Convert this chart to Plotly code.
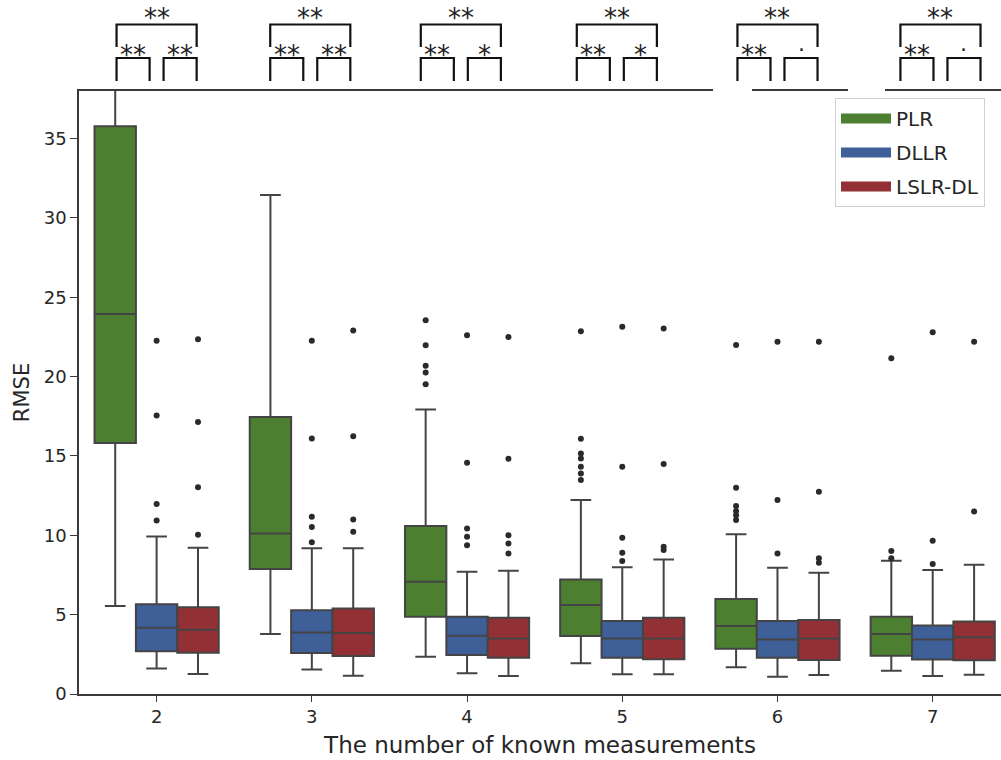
import plotly.graph_objects as go

# ---------------- data ----------------
categories = ['2', '3', '4', '5', '6', '7']
methods = ['PLR', 'DLLR', 'LSLR-DL']

plr_lower = [5.54, 3.78, 2.35, 1.93, 1.68, 1.47]
plr_q1 = [15.81, 7.87, 4.87, 3.65, 2.85, 2.41]
plr_median = [23.95, 10.12, 7.07, 5.61, 4.28, 3.78]
plr_q3 = [35.78, 17.45, 10.58, 7.22, 5.98, 4.87]
plr_upper = [40.0, 31.45, 17.93, 12.22, 10.06, 8.40]
plr_outliers = [[], [], [23.56, 21.98, 20.68, 20.26, 19.52],
                [22.86, 16.08, 15.16, 14.84, 14.32, 13.90, 13.48],
                [22.0, 12.99, 11.84, 11.53, 11.27, 10.96],
                [21.16, 9.01, 8.55]]

dllr_lower = [1.60, 1.55, 1.30, 1.24, 1.09, 1.13]
dllr_q1 = [2.70, 2.58, 2.46, 2.29, 2.29, 2.18]
dllr_median = [4.17, 3.88, 3.67, 3.50, 3.43, 3.43]
dllr_q3 = [5.65, 5.28, 4.87, 4.60, 4.60, 4.32]
dllr_upper = [9.93, 9.18, 7.70, 7.98, 7.96, 7.81]
dllr_outliers = [[22.26, 17.55, 11.97, 10.93],
                 [22.26, 16.10, 11.17, 10.52, 9.56],
                 [22.61, 14.57, 10.43, 9.91, 9.38],
                 [23.14, 14.32, 9.84, 8.90, 8.38],
                 [22.20, 12.22, 8.86],
                 [22.80, 9.66, 8.19]]

lslr_lower = [1.26, 1.15, 1.13, 1.24, 1.20, 1.21]
lslr_q1 = [2.60, 2.39, 2.29, 2.19, 2.14, 2.12]
lslr_median = [4.05, 3.85, 3.50, 3.50, 3.50, 3.57]
lslr_q3 = [5.46, 5.39, 4.81, 4.81, 4.66, 4.57]
lslr_upper = [9.22, 9.18, 7.77, 8.48, 7.64, 8.15]
lslr_outliers = [[22.36, 17.14, 13.03, 10.04],
                 [22.90, 16.25, 11.00, 10.23],
                 [22.50, 14.82, 10.01, 9.48, 8.86],
                 [23.03, 14.49, 9.28, 9.07],
                 [22.20, 12.74, 8.55, 8.27],
                 [22.20, 11.50]]

# significance labels (PLR vs LSLR-DL, PLR vs DLLR, DLLR vs LSLR-DL)
sig_outer = ['**', '**', '**', '**', '**', '**']
sig_left = ['**', '**', '**', '**', '**', '**']
sig_right = ['**', '**', '*', '*', '·', '·']

# ---------------- styling ----------------
colors = ['#4c8030', '#3e5f98', '#923035']
edge = '#444444'
text_col = '#262626'
font_fam = 'DejaVu Sans'
bracket_shift = [0.0, -0.01, -0.04, -0.035, 0.0, 0.05]

stats = [
    (plr_lower, plr_q1, plr_median, plr_q3, plr_upper, plr_outliers),
    (dllr_lower, dllr_q1, dllr_median, dllr_q3, dllr_upper, dllr_outliers),
    (lslr_lower, lslr_q1, lslr_median, lslr_q3, lslr_upper, lslr_outliers),
]

n_hue = len(methods)
w = 0.8 / n_hue
base = list(range(len(categories)))

fig = go.Figure()
for h, (name, col, st) in enumerate(zip(methods, colors, stats)):
    lo, q1, med, q3, hi, outl = st
    off = (h - (n_hue - 1) / 2) * w
    xs = [b + off for b in base]
    fig.add_trace(go.Box(
        x=xs, lowerfence=lo, q1=q1, median=med, q3=q3, upperfence=hi,
        width=w, name=name, legendgroup=name,
        fillcolor=col, line=dict(color=edge, width=2),
        whiskerwidth=0.5, boxpoints=False, showlegend=False,
    ))
    ox, oy = [], []
    for b, vals in zip(base, outl):
        for v in vals:
            ox.append(b + off)
            oy.append(v)
    fig.add_trace(go.Scatter(
        x=ox, y=oy, mode='markers', showlegend=False, legendgroup=name,
        marker=dict(color='#2a2a2a', size=6, symbol='circle'),
        hoverinfo='y',
    ))
    # legend patch (wide filled rectangle, like matplotlib's legend patch)
    fig.add_trace(go.Scatter(
        x=[None], y=[None], mode='lines', name=name, legendgroup=name,
        line=dict(color=col, width=16), showlegend=True,
    ))

# ---------------- significance brackets ----------------
L, T, W_PX, H_PX = 79, 91, 922, 603
def py(p):  # pixel row -> paper y
    return (760 - 66 - p) / H_PX

y_out_top, y_out_bot = py(24.5), py(47)
y_in_top, y_in_bot = py(58), py(81)
half = 0.258
gap = 0.045
shapes = []
annotations = []
for i, c in enumerate(base):
    cc = c + bracket_shift[i]
    for (x0, x1, yt, yb, lab, ly) in [
        (cc - half, cc + half, y_out_top, y_out_bot, sig_outer[i], py(18)),
        (cc - half, cc - gap, y_in_top, y_in_bot, sig_left[i], py(55)),
        (cc + gap, cc + half, y_in_top, y_in_bot, sig_right[i], py(55)),
    ]:
        shapes.append(dict(
            type='path', xref='x', yref='paper',
            path=f'M {x0},{yb} L {x0},{yt} L {x1},{yt} L {x1},{yb}',
            line=dict(color='#111111', width=2.2), layer='above'))
        is_dot = lab == '·'
        annotations.append(dict(
            x=(x0 + x1) / 2, y=ly if not is_dot else py(50), xref='x', yref='paper',
            text=lab, showarrow=False, xanchor='center', yanchor='middle',
            font=dict(family=font_fam, size=26 if not is_dot else 22, color='#222222')))

# white patches interrupting the top spine (as in the reference)
for (a, b) in [(713, 752), (848, 885)]:
    shapes.append(dict(type='rect', xref='paper', yref='paper',
                       x0=(a - L) / W_PX, x1=(b - L) / W_PX,
                       y0=py(97), y1=py(86), fillcolor='white',
                       line=dict(width=0), layer='above'))

fig.update_layout(
    width=1001, height=760,
    margin=dict(l=L, r=0, t=T, b=66),
    paper_bgcolor='white', plot_bgcolor='white',
    boxmode='overlay',
    font=dict(family=font_fam, color=text_col),
    shapes=shapes, annotations=annotations,
    legend=dict(x=(835 - L) / W_PX, y=py(98), xanchor='left', yanchor='top',
                font=dict(family=font_fam, size=20, color=text_col),
                bgcolor='white', bordercolor='#d0d0d0', borderwidth=1,
                tracegroupgap=5, itemwidth=50),
    showlegend=True,
)
fig.update_xaxes(
    range=[-0.5, 5.44], tickmode='array', tickvals=base, ticktext=categories,
    showline=True, linecolor='#3a3a3a', linewidth=1.5, mirror=True,
    ticks='outside', ticklen=6, tickcolor='#3a3a3a', tickwidth=1.3,
    showgrid=False, zeroline=False,
    tickfont=dict(size=18, family=font_fam, color=text_col),
    title=dict(text='The number of known measurements', standoff=11,
               font=dict(size=23, family=font_fam, color=text_col)),
)
fig.update_yaxes(
    range=[0, 38], tickvals=[0, 5, 10, 15, 20, 25, 30, 35],
    showline=True, linecolor='#3a3a3a', linewidth=1.5,
    ticks='outside', ticklen=7, tickcolor='#3a3a3a', tickwidth=1.3,
    showgrid=False, zeroline=False,
    tickfont=dict(size=18, family=font_fam, color=text_col),
    title=dict(text='RMSE', standoff=8,
               font=dict(size=21, family=font_fam, color=text_col)),
)

fig.write_html('out.html', config={'displayModeBar': False},
               post_script="document.body.style.margin='0';")
